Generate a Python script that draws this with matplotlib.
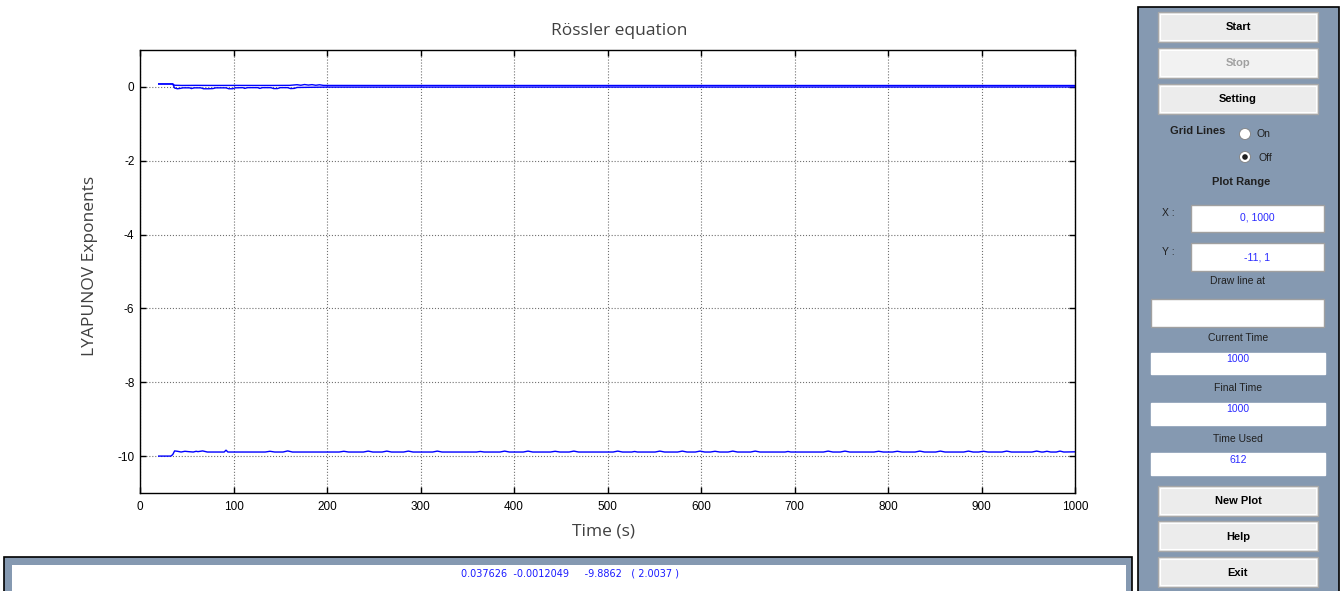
import matplotlib
matplotlib.use("Agg")
import matplotlib.pyplot as plt
from matplotlib.patches import Rectangle, Circle

# ---------------- data ----------------
x_ticks = [0, 100, 200, 300, 400, 500, 600, 700, 800, 900, 1000]
y_ticks = [0, -2, -4, -6, -8, -10]

lam1_t = [20, 35, 37, 45, 60, 80, 100, 120, 140, 160, 168, 172, 176, 180, 184, 188, 192, 196, 200, 250, 1000]
lam1_v = [0.08, 0.08, 0.045, 0.040, 0.042, 0.040, 0.041, 0.040, 0.040, 0.042, 0.060, 0.045, 0.065, 0.050, 0.062, 0.045, 0.058, 0.042, 0.040, 0.039, 0.038]

lam2_t = [20, 35, 37, 40, 43, 46, 53, 55, 58, 65, 68, 73, 78, 81, 92, 95, 99, 102, 110, 112, 115, 126, 128, 131,
          140, 143, 147, 150, 158, 161, 165, 168, 200, 1000]
lam2_v = [0.08, 0.08, -0.03, -0.05, -0.04, -0.025, -0.025, -0.045, -0.025, -0.025, -0.05, -0.05, -0.045, -0.025,
          -0.025, -0.05, -0.05, -0.025, -0.02, -0.04, -0.02, -0.02, -0.04, -0.02, -0.02, -0.045, -0.045, -0.02,
          -0.02, -0.045, -0.04, -0.015, -0.005, -0.001]

lam3_t = [20, 33, 35, 37, 40, 44, 48, 52, 57, 60, 62, 67, 72, 76, 90, 92, 94, 134, 139, 144, 153, 158, 163,
          213, 218, 223, 239, 244, 249, 259, 264, 269, 282, 287, 292, 313, 318, 323, 360, 364, 368, 385, 390, 395,
          410, 415, 420, 439, 444, 449, 459, 464, 469, 506, 511, 516, 526, 529, 532, 551, 556, 561, 575, 580, 585,
          594, 599, 604, 610, 615, 620, 629, 634, 639, 653, 658, 663, 690, 693, 696, 731, 736, 741, 749, 754, 759,
          785, 790, 795, 805, 810, 815, 829, 834, 839, 851, 856, 861, 881, 886, 891, 897, 902, 907, 922, 927, 932,
          954, 959, 964, 966, 970, 974, 980, 984, 988, 1000]
lam3_v = [-10.0, -10.0, -9.96, -9.86, -9.87, -9.89, -9.87, -9.88, -9.89, -9.87, -9.88, -9.86, -9.89, -9.89,
          -9.89, -9.84, -9.89, -9.89, -9.87, -9.89, -9.89, -9.86, -9.89,
          -9.89, -9.87, -9.89, -9.89, -9.865, -9.89, -9.89, -9.865, -9.89, -9.89, -9.865, -9.89, -9.89, -9.865,
          -9.89, -9.89, -9.875, -9.89, -9.89, -9.865, -9.89, -9.89, -9.865, -9.89, -9.89, -9.87, -9.89, -9.89,
          -9.865, -9.89, -9.89, -9.865, -9.89, -9.89, -9.875, -9.89, -9.89, -9.865, -9.89, -9.89, -9.865, -9.89,
          -9.89, -9.865, -9.89, -9.89, -9.87, -9.89, -9.89, -9.865, -9.89, -9.89, -9.865, -9.89, -9.89, -9.875,
          -9.89, -9.89, -9.865, -9.89, -9.89, -9.865, -9.89, -9.89, -9.87, -9.89, -9.89, -9.87, -9.89, -9.89,
          -9.865, -9.89, -9.89, -9.865, -9.89, -9.89, -9.865, -9.89, -9.89, -9.87, -9.89, -9.89, -9.865, -9.89,
          -9.89, -9.865, -9.89, -9.89, -9.87, -9.89, -9.89, -9.865, -9.89, -9.885]

result_text = "0.037626  -0.0012049     -9.8862   ( 2.0037 )"

# ---------------- figure ----------------
W, H = 1342, 591
fig = plt.figure(figsize=(W / 100, H / 100), dpi=100, facecolor="white")

# pixel-space background axes for GUI elements
bg = fig.add_axes([0, 0, 1, 1], zorder=0)
bg.set_xlim(0, W)
bg.set_ylim(H, 0)
bg.axis("off")

panel_col = "#8599B1"
# right panel
bg.add_patch(Rectangle((1138, 7), 201, 590, facecolor=panel_col, edgecolor="black", lw=1.2))
# bottom panel
bg.add_patch(Rectangle((4, 557), 1128, 40, facecolor=panel_col, edgecolor="black", lw=1.2))
bg.add_patch(Rectangle((12, 565), 1114, 30, facecolor="white", edgecolor="none"))
bg.text(570, 573, result_text, color="#1a1aff", fontsize=7, ha="center", va="center",
        family=["Liberation Sans Narrow", "DejaVu Sans"])

GUI_FONT = ["Liberation Sans", "DejaVu Sans"]


def button(y0, y1, label, enabled=True):
    bg.add_patch(Rectangle((1158, y0), 160, y1 - y0, facecolor="#ECECEC" if enabled else "#F2F2F2",
                           edgecolor="#A8A8A8", lw=1.0))
    bg.add_patch(Rectangle((1160, y0 + 2), 156, y1 - y0 - 4, facecolor="none", edgecolor="white", lw=0.8))
    bg.text(1238, (y0 + y1) / 2 + 0.5, label, fontsize=8, fontweight="bold", ha="center", va="center",
            color="black" if enabled else "#A0A0A0", family=GUI_FONT)


button(12, 42, "Start")
button(48, 78, "Stop", enabled=False)
button(84, 114, "Setting")
button(486, 516, "New Plot")
button(521, 551, "Help")
button(557, 587, "Exit")


def box(x0, x1, y0, y1, border=True):
    bg.add_patch(Rectangle((x0, y0), x1 - x0, y1 - y0, facecolor="white",
                           edgecolor="#A0A0A0" if border else "white", lw=1.0))


def label(x, y, s, color="#202020", bold=False, size=7.5):
    bg.text(x, y, s, fontsize=size, ha="center", va="center", color=color,
            fontweight="bold" if bold else "normal", family=GUI_FONT)


BLUE_TXT = "#2a2aff"
label(1198, 131, "Grid Lines", bold=True, size=8)
bg.add_patch(Circle((1245, 134), 5.5, facecolor="white", edgecolor="#808080", lw=0.6))
label(1263, 134, "On")
bg.add_patch(Circle((1245, 157), 5.5, facecolor="white", edgecolor="#808080", lw=0.6))
bg.add_patch(Circle((1245, 157), 2.8, facecolor="#202020", edgecolor="none"))
label(1265, 158, "Off")
label(1241, 182, "Plot Range", bold=True, size=8)

label(1168, 213, "X :")
box(1191, 1324, 205, 232)
label(1257, 218, "0, 1000", color=BLUE_TXT)
label(1168, 252, "Y :")
box(1191, 1324, 243, 271)
label(1257, 257, "-11, 1", color=BLUE_TXT)
label(1238, 281, "Draw line at")
box(1151, 1324, 299, 327)
label(1238, 338, "Current Time")
box(1151, 1325, 353, 374, border=False)
label(1238, 359, "1000", color=BLUE_TXT)
label(1238, 388, "Final Time")
box(1151, 1325, 403, 425, border=False)
label(1238, 409, "1000", color=BLUE_TXT)
label(1238, 439, "Time Used")
box(1151, 1325, 453, 475, border=False)
label(1238, 460, "612", color=BLUE_TXT)

# ---------------- main plot ----------------
ax_l, ax_r, ax_t, ax_b = 140, 1075, 50, 493
ax = fig.add_axes([ax_l / W, 1 - ax_b / H, (ax_r - ax_l) / W, (ax_b - ax_t) / H], zorder=2)
ax.set_facecolor("white")

ax.plot(lam3_t, lam3_v, color="#0000FF", lw=1.0)
ax.plot(lam2_t, lam2_v, color="#0000FF", lw=1.0)
ax.plot(lam1_t, lam1_v, color="#0000FF", lw=1.0)

ax.set_xlim(0, 1000)
ax.set_ylim(-11, 1)
ax.set_xticks(x_ticks)
ax.set_yticks(y_ticks)
ax.set_xticklabels([str(v) for v in x_ticks])
ax.set_yticklabels([str(v) for v in y_ticks])
ax.grid(True, color="#707070", linestyle=":", lw=0.8)
ax.set_axisbelow(True)
ax.tick_params(direction="in", top=True, right=True, length=4, width=1, labelsize=8.5, colors="black")
ax.tick_params(axis="x", pad=6)
ax.tick_params(axis="y", pad=4)
for lab in ax.get_xticklabels() + ax.get_yticklabels():
    lab.set_family(GUI_FONT)
for s in ax.spines.values():
    s.set_color("black")
    s.set_linewidth(1.0)

TITLE_FONT = ["Open Sans", "DejaVu Sans"]
fig.text(619 / W, 1 - 31 / H, "Rössler equation", fontsize=12.5, color="#404040", ha="center", va="center",
         family=TITLE_FONT)
fig.text(603 / W, 1 - 531 / H, "Time (s)", fontsize=12.5, color="#404040", ha="center", va="center",
         family=TITLE_FONT)
fig.text(90 / W, 1 - 266 / H, "LYAPUNOV Exponents", fontsize=12.5, color="#404040", ha="center", va="center",
         rotation=90, family=TITLE_FONT)

fig.savefig("out.png", dpi=100, facecolor="white")
